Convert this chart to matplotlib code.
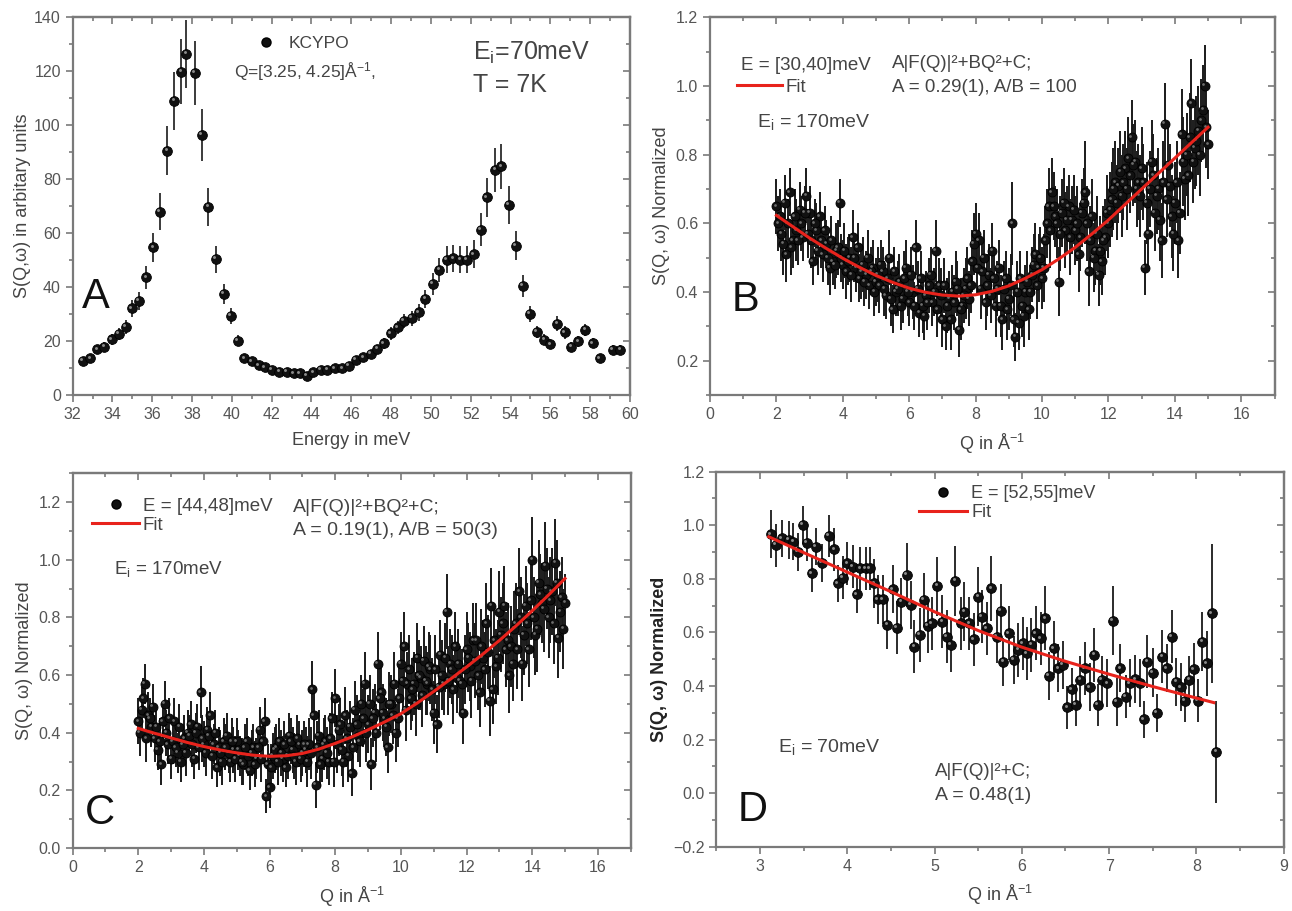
import matplotlib
matplotlib.use('Agg')
import numpy as np
import matplotlib.pyplot as plt
import matplotlib.transforms as mtransforms
from matplotlib.ticker import MultipleLocator
from matplotlib.lines import Line2D

plt.rcParams['font.family'] = ['Liberation Sans', 'DejaVu Sans']
plt.rcParams['mathtext.fontset'] = 'custom'
plt.rcParams['mathtext.rm'] = 'Liberation Sans'
plt.rcParams['mathtext.it'] = 'Liberation Sans:italic'
plt.rcParams['mathtext.bf'] = 'Liberation Sans:bold'

# ---------------- panel A : energy cut ----------------
a_energy = [32.52, 32.89, 33.25, 33.6, 33.98, 34.33, 34.66, 34.97, 35.33, 35.7,
            36.05, 36.37, 36.76, 37.11, 37.47, 37.72, 38.13, 38.49, 38.82, 39.2,
            39.6, 39.95, 40.3, 40.63, 41.0, 41.35, 41.67, 42.0, 42.38, 42.77,
            43.1, 43.43, 43.77, 44.1, 44.47, 44.8, 45.17, 45.55, 45.88, 46.22,
            46.6, 46.97, 47.3, 47.63, 47.97, 48.33, 48.63, 49.05, 49.38, 49.72,
            50.1, 50.43, 50.8, 51.13, 51.47, 51.8, 52.17, 52.5, 52.82, 53.23,
            53.54, 53.92, 54.27, 54.63, 54.96, 55.33, 55.69, 56.0, 56.35, 56.71,
            57.05, 57.4, 57.75, 58.12, 58.47, 59.15, 59.52]
a_sqw = [12.7, 13.6, 16.9, 17.9, 20.6, 22.6, 25.2, 32.1, 34.9, 43.6,
         54.8, 68.0, 90.6, 109.0, 119.8, 126.5, 119.4, 96.4, 69.8, 50.4,
         37.5, 29.3, 20.2, 13.6, 12.5, 11.0, 10.2, 9.3, 8.6, 8.6,
         8.0, 8.0, 7.2, 8.4, 9.3, 9.3, 9.9, 9.9, 10.9, 13.0,
         14.0, 15.2, 17.0, 19.1, 22.8, 25.1, 27.5, 28.5, 30.6, 35.6,
         41.1, 46.3, 50.1, 50.7, 50.1, 50.1, 52.2, 61.2, 73.3, 83.4,
         84.7, 70.5, 55.4, 40.5, 30.0, 23.4, 20.5, 18.8, 26.5, 23.2,
         17.9, 19.9, 24.1, 19.2, 13.6, 16.8, 16.8]
a_err = [1.2, 1.3, 1.6, 1.7, 2.0, 2.2, 2.5, 3.1, 3.4, 4.3,
         5.4, 6.8, 9.0, 10.8, 12.0, 12.6, 12.0, 9.6, 7.0, 5.0,
         3.7, 2.9, 2.0, 1.4, 1.2, 1.0, 1.0, 1.0, 1.0, 1.0,
         1.0, 1.0, 1.0, 1.0, 1.0, 1.0, 1.0, 1.0, 1.0, 1.3,
         1.4, 1.5, 1.7, 1.9, 2.3, 2.5, 2.7, 2.8, 3.0, 3.5,
         4.1, 4.6, 5.0, 5.0, 5.0, 5.0, 5.2, 6.1, 7.3, 8.3,
         8.5, 7.0, 5.5, 4.0, 3.0, 2.3, 2.0, 1.9, 2.6, 2.3,
         1.8, 2.0, 2.4, 1.9, 1.4, 1.7, 1.7]

# ---------------- panel B : E = [30,40] meV ----------------
b_q = np.linspace(2.0, 15.0, 131)
b_sqw = [0.65, 0.62, 0.54, 0.51, 0.69, 0.55, 0.58, 0.64, 0.56, 0.68,
         0.63, 0.49, 0.58, 0.62, 0.51, 0.54, 0.47, 0.49, 0.52, 0.66,
         0.48, 0.46, 0.50, 0.56, 0.47, 0.44, 0.48, 0.45, 0.42, 0.47,
         0.43, 0.42, 0.46, 0.39, 0.50, 0.35, 0.40, 0.43, 0.38, 0.47,
         0.37, 0.40, 0.53, 0.34, 0.36, 0.39, 0.42, 0.37, 0.52, 0.42,
         0.32, 0.30, 0.38, 0.40, 0.43, 0.29, 0.36, 0.41, 0.38, 0.49,
         0.57, 0.55, 0.46, 0.37, 0.45, 0.52, 0.36, 0.47, 0.32, 0.44,
         0.38, 0.60, 0.27, 0.31, 0.36, 0.40, 0.35, 0.45, 0.51, 0.47,
         0.44, 0.55, 0.65, 0.69, 0.62, 0.43, 0.63, 0.58, 0.65, 0.61,
         0.58, 0.51, 0.63, 0.69, 0.46, 0.62, 0.52, 0.45, 0.49, 0.56,
         0.60, 0.67, 0.72, 0.71, 0.68, 0.76, 0.79, 0.85, 0.78, 0.72,
         0.76, 0.47, 0.57, 0.78, 0.63, 0.70, 0.55, 0.89, 0.77, 0.62,
         0.66, 0.55, 0.86, 0.73, 0.74, 0.95, 0.82, 0.87, 0.90, 1.00,
         0.83]
b_err = [0.08, 0.08, 0.09, 0.08, 0.07, 0.08, 0.09, 0.08, 0.07, 0.08,
         0.08, 0.07, 0.08, 0.07, 0.08, 0.07, 0.08, 0.07, 0.08, 0.07,
         0.07, 0.08, 0.07, 0.08, 0.07, 0.07, 0.08, 0.07, 0.07, 0.08,
         0.07, 0.08, 0.07, 0.07, 0.08, 0.07, 0.07, 0.08, 0.07, 0.08,
         0.07, 0.08, 0.08, 0.07, 0.08, 0.07, 0.08, 0.07, 0.09, 0.08,
         0.08, 0.07, 0.08, 0.08, 0.09, 0.08, 0.08, 0.09, 0.08, 0.09,
         0.09, 0.08, 0.09, 0.08, 0.09, 0.08, 0.09, 0.08, 0.09, 0.08,
         0.09, 0.12, 0.07, 0.08, 0.09, 0.08, 0.09, 0.08, 0.09, 0.10,
         0.09, 0.10, 0.11, 0.10, 0.09, 0.10, 0.10, 0.11, 0.09, 0.10,
         0.10, 0.11, 0.10, 0.15, 0.10, 0.11, 0.10, 0.09, 0.10, 0.11,
         0.10, 0.11, 0.12, 0.11, 0.12, 0.11, 0.12, 0.11, 0.12, 0.11,
         0.12, 0.08, 0.11, 0.12, 0.11, 0.12, 0.11, 0.12, 0.11, 0.12,
         0.12, 0.11, 0.13, 0.12, 0.12, 0.13, 0.12, 0.13, 0.12, 0.12,
         0.10]
# the in-between Q bins (2.05 ... 14.95)
b_q_mid = np.linspace(2.05, 14.95, 130)
b_sqw_mid = [0.60, 0.57, 0.66, 0.60, 0.53, 0.62, 0.55, 0.60, 0.63, 0.57,
             0.55, 0.60, 0.52, 0.55, 0.58, 0.50, 0.55, 0.48, 0.53, 0.50,
             0.52, 0.49, 0.45, 0.50, 0.53, 0.46, 0.43, 0.50, 0.46, 0.40,
             0.45, 0.48, 0.41, 0.44, 0.38, 0.46, 0.41, 0.36, 0.44, 0.40,
             0.45, 0.36, 0.41, 0.44, 0.33, 0.37, 0.45, 0.40, 0.35, 0.39,
             0.42, 0.36, 0.32, 0.37, 0.41, 0.35, 0.39, 0.44, 0.42, 0.54,
             0.47, 0.41, 0.50, 0.42, 0.39, 0.44, 0.41, 0.36, 0.41, 0.35,
             0.42, 0.32, 0.40, 0.44, 0.33, 0.43, 0.40, 0.48, 0.42, 0.50,
             0.47, 0.60, 0.58, 0.65, 0.60, 0.57, 0.66, 0.61, 0.56, 0.64,
             0.60, 0.56, 0.66, 0.60, 0.55, 0.50, 0.57, 0.52, 0.55, 0.63,
             0.64, 0.70, 0.66, 0.75, 0.72, 0.70, 0.74, 0.77, 0.70, 0.68,
             0.72, 0.66, 0.70, 0.74, 0.68, 0.61, 0.72, 0.67, 0.71, 0.57,
             0.72, 0.63, 0.78, 0.80, 0.85, 0.78, 0.84, 0.80, 0.93, 0.88]
b_err_mid = [0.08, 0.08, 0.08, 0.07, 0.08, 0.08, 0.07, 0.08, 0.08, 0.07,
             0.08, 0.07, 0.07, 0.08, 0.07, 0.08, 0.07, 0.07, 0.08, 0.07,
             0.08, 0.07, 0.08, 0.07, 0.07, 0.08, 0.07, 0.08, 0.07, 0.07,
             0.08, 0.07, 0.08, 0.07, 0.08, 0.07, 0.08, 0.07, 0.08, 0.07,
             0.08, 0.07, 0.08, 0.08, 0.07, 0.08, 0.08, 0.07, 0.08, 0.08,
             0.08, 0.08, 0.09, 0.08, 0.08, 0.09, 0.08, 0.09, 0.08, 0.09,
             0.08, 0.09, 0.08, 0.09, 0.08, 0.09, 0.08, 0.09, 0.08, 0.09,
             0.09, 0.08, 0.09, 0.08, 0.09, 0.09, 0.08, 0.09, 0.10, 0.09,
             0.10, 0.10, 0.11, 0.10, 0.10, 0.11, 0.10, 0.10, 0.11, 0.10,
             0.11, 0.10, 0.10, 0.11, 0.10, 0.10, 0.11, 0.10, 0.10, 0.11,
             0.11, 0.12, 0.11, 0.12, 0.11, 0.12, 0.11, 0.12, 0.11, 0.12,
             0.11, 0.12, 0.11, 0.12, 0.11, 0.12, 0.12, 0.11, 0.12, 0.11,
             0.12, 0.12, 0.13, 0.12, 0.13, 0.12, 0.13, 0.12, 0.13, 0.12]
b_fit_q = [2, 2.5, 3, 3.5, 4, 4.5, 5, 5.5, 6, 6.5, 7, 7.5, 8, 8.5, 9, 9.5,
           10, 10.5, 11, 11.5, 12, 12.5, 13, 13.5, 14, 14.5, 15]
b_fit = [0.623, 0.59, 0.557, 0.527, 0.498, 0.472, 0.448, 0.428, 0.411, 0.399,
         0.391, 0.388, 0.392, 0.402, 0.418, 0.44, 0.465, 0.496, 0.53, 0.569,
         0.61, 0.655, 0.70, 0.745, 0.79, 0.835, 0.88]

# ---------------- panel C : E = [44,48] meV ----------------
c_q = np.linspace(2.0, 15.0, 131)
c_sqw = [0.44, 0.48, 0.57, 0.46, 0.42, 0.38, 0.34, 0.29, 0.50, 0.36,
         0.31, 0.44, 0.33, 0.30, 0.38, 0.40, 0.43, 0.31, 0.42, 0.54,
         0.36, 0.41, 0.46, 0.36, 0.28, 0.33, 0.37, 0.39, 0.30, 0.34,
         0.37, 0.32, 0.29, 0.37, 0.27, 0.35, 0.31, 0.41, 0.37, 0.18,
         0.21, 0.32, 0.35, 0.37, 0.31, 0.28, 0.39, 0.34, 0.30, 0.36,
         0.33, 0.34, 0.36, 0.55, 0.22, 0.39, 0.31, 0.37, 0.30, 0.45,
         0.52, 0.41, 0.34, 0.46, 0.32, 0.26, 0.48, 0.39, 0.50, 0.57,
         0.43, 0.29, 0.47, 0.64, 0.54, 0.45, 0.35, 0.50, 0.57, 0.45,
         0.64, 0.70, 0.57, 0.52, 0.57, 0.66, 0.59, 0.65, 0.57, 0.62,
         0.47, 0.43, 0.67, 0.57, 0.82, 0.64, 0.55, 0.59, 0.58, 0.47,
         0.69, 0.63, 0.72, 0.72, 0.54, 0.66, 0.78, 0.51, 0.55, 0.63,
         0.82, 0.78, 0.69, 0.60, 0.64, 0.78, 0.89, 0.64, 0.84, 0.69,
         1.00, 0.74, 0.92, 0.85, 0.98, 0.80, 0.89, 0.99, 0.73, 0.87,
         0.85]
c_err = [0.08, 0.08, 0.07, 0.08, 0.07, 0.08, 0.07, 0.07, 0.08, 0.07,
         0.07, 0.08, 0.07, 0.07, 0.08, 0.08, 0.08, 0.07, 0.08, 0.09,
         0.08, 0.08, 0.08, 0.07, 0.07, 0.08, 0.08, 0.08, 0.07, 0.08,
         0.08, 0.07, 0.07, 0.08, 0.07, 0.08, 0.07, 0.08, 0.08, 0.06,
         0.07, 0.08, 0.08, 0.08, 0.08, 0.07, 0.08, 0.08, 0.08, 0.08,
         0.08, 0.08, 0.09, 0.10, 0.08, 0.09, 0.08, 0.09, 0.08, 0.09,
         0.10, 0.09, 0.09, 0.10, 0.09, 0.08, 0.10, 0.09, 0.10, 0.11,
         0.10, 0.09, 0.10, 0.11, 0.11, 0.10, 0.09, 0.10, 0.11, 0.10,
         0.11, 0.12, 0.11, 0.11, 0.11, 0.12, 0.11, 0.12, 0.11, 0.12,
         0.11, 0.10, 0.12, 0.11, 0.13, 0.12, 0.12, 0.12, 0.12, 0.11,
         0.13, 0.12, 0.13, 0.13, 0.12, 0.13, 0.14, 0.12, 0.12, 0.13,
         0.14, 0.14, 0.13, 0.13, 0.13, 0.14, 0.15, 0.13, 0.14, 0.13,
         0.15, 0.14, 0.15, 0.14, 0.15, 0.14, 0.15, 0.15, 0.14, 0.14,
         0.10]
c_q_mid = np.linspace(2.05, 14.95, 130)
c_sqw_mid = [0.40, 0.52, 0.38, 0.45, 0.49, 0.42, 0.37, 0.44, 0.40, 0.45,
             0.37, 0.35, 0.42, 0.36, 0.33, 0.39, 0.36, 0.40, 0.35, 0.38,
             0.33, 0.39, 0.32, 0.40, 0.35, 0.30, 0.35, 0.33, 0.37, 0.31,
             0.34, 0.30, 0.35, 0.32, 0.33, 0.29, 0.35, 0.31, 0.44, 0.29,
             0.28, 0.34, 0.30, 0.33, 0.36, 0.32, 0.37, 0.32, 0.38, 0.31,
             0.36, 0.30, 0.33, 0.46, 0.35, 0.29, 0.36, 0.33, 0.38, 0.30,
             0.36, 0.43, 0.30, 0.38, 0.42, 0.35, 0.43, 0.37, 0.45, 0.40,
             0.50, 0.45, 0.40, 0.52, 0.47, 0.42, 0.50, 0.46, 0.40, 0.52,
             0.58, 0.48, 0.62, 0.55, 0.50, 0.60, 0.53, 0.58, 0.63, 0.55,
             0.62, 0.56, 0.60, 0.66, 0.58, 0.62, 0.70, 0.64, 0.57, 0.62,
             0.66, 0.58, 0.65, 0.60, 0.70, 0.62, 0.68, 0.84, 0.72, 0.66,
             0.74, 0.84, 0.72, 0.70, 0.76, 0.69, 0.80, 0.74, 0.78, 0.86,
             0.80, 0.76, 0.88, 0.83, 0.90, 0.86, 0.78, 0.92, 0.82, 0.76]
c_err_mid = [0.08, 0.07, 0.08, 0.07, 0.08, 0.07, 0.08, 0.07, 0.08, 0.07,
             0.08, 0.07, 0.08, 0.07, 0.08, 0.07, 0.08, 0.07, 0.08, 0.08,
             0.08, 0.07, 0.08, 0.08, 0.07, 0.08, 0.08, 0.07, 0.08, 0.08,
             0.07, 0.08, 0.08, 0.07, 0.08, 0.08, 0.07, 0.08, 0.08, 0.07,
             0.08, 0.08, 0.08, 0.08, 0.08, 0.08, 0.08, 0.08, 0.08, 0.08,
             0.08, 0.09, 0.09, 0.10, 0.09, 0.08, 0.09, 0.09, 0.09, 0.09,
             0.10, 0.09, 0.09, 0.10, 0.09, 0.10, 0.10, 0.09, 0.10, 0.10,
             0.10, 0.10, 0.10, 0.11, 0.10, 0.10, 0.11, 0.10, 0.10, 0.11,
             0.11, 0.11, 0.12, 0.11, 0.11, 0.12, 0.11, 0.12, 0.12, 0.11,
             0.12, 0.11, 0.12, 0.12, 0.12, 0.12, 0.12, 0.12, 0.12, 0.12,
             0.12, 0.13, 0.13, 0.12, 0.13, 0.13, 0.13, 0.13, 0.13, 0.13,
             0.13, 0.14, 0.13, 0.14, 0.13, 0.14, 0.14, 0.14, 0.14, 0.14,
             0.14, 0.15, 0.14, 0.15, 0.14, 0.15, 0.14, 0.15, 0.14, 0.14]
c_fit_q = b_fit_q
c_fit = [0.415, 0.398, 0.382, 0.366, 0.352, 0.34, 0.33, 0.322, 0.318, 0.32,
         0.328, 0.343, 0.363, 0.385, 0.41, 0.437, 0.466, 0.503, 0.543, 0.585,
         0.628, 0.673, 0.72, 0.77, 0.823, 0.878, 0.935]

# ---------------- panel D : E = [52,55] meV ----------------
d_q = [3.12, 3.18, 3.25, 3.33, 3.38, 3.43, 3.49, 3.54, 3.59, 3.64,
       3.71, 3.79, 3.85, 3.89, 3.95, 4.0, 4.06, 4.11, 4.15, 4.21,
       4.26, 4.31, 4.35, 4.41, 4.46, 4.52, 4.57, 4.62, 4.68, 4.73,
       4.77, 4.83, 4.88, 4.92, 4.97, 5.03, 5.09, 5.14, 5.19, 5.24,
       5.3, 5.34, 5.4, 5.45, 5.5, 5.54, 5.6, 5.65, 5.71, 5.76,
       5.79, 5.85, 5.91, 5.96, 6.01, 6.06, 6.11, 6.16, 6.22, 6.27,
       6.31, 6.37, 6.42, 6.47, 6.52, 6.57, 6.62, 6.67, 6.72, 6.78,
       6.83, 6.87, 6.92, 6.98, 7.04, 7.09, 7.13, 7.19, 7.24, 7.3,
       7.35, 7.4, 7.44, 7.5, 7.55, 7.61, 7.66, 7.72, 7.77, 7.82,
       7.87, 7.92, 7.97, 8.02, 8.07, 8.12, 8.18, 8.23]
d_sqw = [0.966, 0.926, 0.951, 0.945, 0.939, 0.901, 1.001, 0.935, 0.82, 0.92,
         0.86, 0.96, 0.91, 0.783, 0.804, 0.858, 0.845, 0.742, 0.839, 0.839,
         0.839, 0.783, 0.723, 0.723, 0.628, 0.761, 0.618, 0.715, 0.814, 0.702,
         0.547, 0.59, 0.721, 0.624, 0.634, 0.773, 0.64, 0.584, 0.553, 0.792,
         0.634, 0.677, 0.634, 0.574, 0.733, 0.659, 0.615, 0.764, 0.584, 0.68,
         0.491, 0.597, 0.497, 0.534, 0.559, 0.522, 0.553, 0.597, 0.578, 0.653,
         0.437, 0.541, 0.466, 0.478, 0.32, 0.387, 0.329, 0.422, 0.466, 0.395,
         0.516, 0.329, 0.422, 0.41, 0.644, 0.341, 0.466, 0.36, 0.41, 0.425,
         0.41, 0.275, 0.491, 0.45, 0.3, 0.51, 0.466, 0.584, 0.416, 0.395,
         0.345, 0.422, 0.462, 0.345, 0.565, 0.484, 0.671, 0.155]
d_err = [0.09, 0.08, 0.07, 0.07, 0.07, 0.07, 0.07, 0.07, 0.07, 0.07,
         0.07, 0.08, 0.08, 0.07, 0.08, 0.08, 0.08, 0.07, 0.08, 0.08,
         0.08, 0.09, 0.09, 0.09, 0.09, 0.09, 0.10, 0.09, 0.12, 0.09,
         0.10, 0.10, 0.10, 0.10, 0.10, 0.11, 0.10, 0.10, 0.10, 0.13,
         0.10, 0.11, 0.10, 0.10, 0.11, 0.10, 0.10, 0.12, 0.10, 0.10,
         0.09, 0.10, 0.09, 0.10, 0.10, 0.10, 0.10, 0.10, 0.10, 0.12,
         0.09, 0.10, 0.09, 0.09, 0.08, 0.08, 0.08, 0.09, 0.10, 0.09,
         0.10, 0.08, 0.09, 0.09, 0.13, 0.09, 0.09, 0.08, 0.09, 0.09,
         0.09, 0.07, 0.10, 0.09, 0.07, 0.10, 0.09, 0.10, 0.09, 0.09,
         0.08, 0.09, 0.10, 0.08, 0.11, 0.12, 0.26, 0.19]
d_fit_q = [3.1, 3.5, 4, 4.5, 5, 5.5, 6, 6.5, 7, 7.5, 8, 8.2]
d_fit = [0.957, 0.898, 0.825, 0.752, 0.677, 0.607, 0.545, 0.492, 0.444, 0.398, 0.355, 0.338]

GREY = '#555555'
TXT = '#444444'
SPINE = '#7a7a7a'
RED = '#e8231c'
W, H = 1292, 911
NOTE = 13.5


def px_axes(fig, left, top, right, bottom):
    return fig.add_axes([left / W, 1 - bottom / H, (right - left) / W, (bottom - top) / H])


def style(ax, xlim, ylim, xmaj, xmin, ymaj, ymin):
    ax.set_xlim(*xlim)
    ax.set_ylim(*ylim)
    for s in ax.spines.values():
        s.set_color(SPINE)
        s.set_linewidth(1.6)
    ax.xaxis.set_major_locator(MultipleLocator(xmaj))
    ax.xaxis.set_minor_locator(MultipleLocator(xmin))
    ax.yaxis.set_major_locator(MultipleLocator(ymaj))
    ax.yaxis.set_minor_locator(MultipleLocator(ymin))
    ax.tick_params(which='both', direction='out', color=SPINE, width=1.2,
                   labelcolor=GREY, labelsize=11.5)
    ax.tick_params(which='major', length=5)
    ax.tick_params(which='minor', length=3)
    top = ax.secondary_xaxis('top')
    top.xaxis.set_major_locator(MultipleLocator(xmaj))
    top.xaxis.set_minor_locator(MultipleLocator(xmin))
    top.tick_params(which='both', direction='in', color=SPINE, width=1.2, labeltop=False)
    top.tick_params(which='major', length=5)
    top.tick_params(which='minor', length=3)
    top.spines['top'].set_color(SPINE)
    top.spines['top'].set_linewidth(1.6)
    right = ax.secondary_yaxis('right')
    right.yaxis.set_major_locator(MultipleLocator(ymaj))
    right.yaxis.set_minor_locator(MultipleLocator(ymin))
    right.tick_params(which='both', direction='in', color=SPINE, width=1.2, labelright=False)
    right.tick_params(which='major', length=5)
    right.tick_params(which='minor', length=3)
    right.spines['right'].set_color(SPINE)
    right.spines['right'].set_linewidth(1.6)


def balls(ax, x, y, err, ms, elw=1.2, shine_col='#8c8c8c'):
    ax.errorbar(x, y, yerr=err, fmt='o', ms=ms, mfc='#111111', mec='black', mew=0.6,
                ecolor='#1a1a1a', elinewidth=elw, capsize=0, zorder=2)
    shine = mtransforms.offset_copy(ax.transData, fig=ax.figure,
                                    x=-ms * 0.17, y=ms * 0.17, units='points')
    ax.plot(x, y, 'o', ms=ms * 0.3, color=shine_col, mec='none',
            transform=shine, zorder=3)


fig = plt.figure(figsize=(W / 100, H / 100), dpi=100)
ball_handle = Line2D([], [], marker='o', ls='none', ms=6.5, mfc='#111111', mec='black')
fit_handle = Line2D([], [], color=RED, lw=2.2)

# ---- A ----
ax = px_axes(fig, 72.6, 17.3, 630, 395)
style(ax, (32, 60), (0, 140), 2, 1, 20, 10)
balls(ax, a_energy, a_sqw, a_err, 7)
ax.set_xlabel('Energy in meV', fontsize=13, color=TXT, labelpad=7)
ax.set_ylabel('S(Q,ω) in arbitary units', fontsize=13, color=TXT, labelpad=2)
ax.legend([ball_handle], ['KCYPO'], loc='center left', bbox_to_anchor=(0.331, 0.931),
          frameon=False, borderpad=0, borderaxespad=0, handlelength=1.0,
          handletextpad=0.8, fontsize=12.5, labelcolor=TXT)
ax.text(40.1, 120, 'Q=[3.25, 4.25]Å$^{\\mathregular{-1}}$,', fontsize=12.5, color=TXT, va='center')
ax.text(52.1, 126.7, 'E$_{\\mathregular{i}}$=70meV', fontsize=18, color=TXT, va='center')
ax.text(52.1, 115, 'T = 7K', fontsize=18, color=TXT, va='center')
ax.text(32.45, 36.5, 'A', fontsize=30, color='#111111', va='center')

# ---- B ----
ax = px_axes(fig, 710, 17.3, 1274.5, 395)
style(ax, (0, 17), (0.1, 1.2), 2, 1, 0.2, 0.1)
balls(ax, b_q, b_sqw, b_err, 6.5, 1.4, '#6e6e6e')
balls(ax, b_q_mid, b_sqw_mid, b_err_mid, 6.5, 1.4, '#6e6e6e')
ax.plot(b_fit_q, b_fit, color=RED, lw=2.2, zorder=4)
ax.set_xlabel('Q in Å$^{\\mathregular{-1}}$', fontsize=13, color=TXT, labelpad=7)
ax.set_ylabel('S(Q, ω) Normalized', fontsize=13, color=TXT, labelpad=4)
ax.text(0.94, 1.061, 'E = [30,40]meV', fontsize=NOTE, color=TXT, va='center')
ax.legend([fit_handle], ['Fit'], loc='center left', bbox_to_anchor=(0.0476, 0.815),
          frameon=False, borderpad=0, borderaxespad=0, handlelength=2.4,
          handletextpad=0.2, fontsize=NOTE, labelcolor=TXT)
ax.text(5.48, 1.066, 'A|F(Q)|²+BQ²+C;', fontsize=NOTE, color=TXT, va='center')
ax.text(5.48, 0.996, 'A = 0.29(1), A/B = 100', fontsize=NOTE, color=TXT, va='center')
ax.text(1.41, 0.896, 'E$_{\\mathregular{i}}$ = 170meV', fontsize=14, color=TXT, va='center')
ax.text(0.65, 0.377, 'B', fontsize=30, color='#111111', va='center')

# ---- C ----
ax = px_axes(fig, 72.6, 473.3, 630.7, 848)
style(ax, (0, 17), (0, 1.3), 2, 1, 0.2, 0.1)
balls(ax, c_q, c_sqw, c_err, 6.5, 1.4, '#6e6e6e')
balls(ax, c_q_mid, c_sqw_mid, c_err_mid, 6.5, 1.4, '#6e6e6e')
ax.plot(c_fit_q, c_fit, color=RED, lw=2.2, zorder=4)
ax.set_xlabel('Q in Å$^{\\mathregular{-1}}$', fontsize=13, color=TXT, labelpad=7)
ax.set_ylabel('S(Q, ω) Normalized', fontsize=13, color=TXT, labelpad=4)
ax.legend([ball_handle, fit_handle], ['E = [44,48]meV', 'Fit'], loc='upper left',
          bbox_to_anchor=(0.035, 0.935), frameon=False, borderpad=0, borderaxespad=0,
          handlelength=2.5, handletextpad=0.2, labelspacing=0.1, fontsize=NOTE,
          labelcolor=TXT)
ax.text(6.7, 1.18, 'A|F(Q)|²+BQ²+C;', fontsize=14, color=TXT, va='center')
ax.text(6.7, 1.10, 'A = 0.19(1), A/B = 50(3)', fontsize=14, color=TXT, va='center')
ax.text(1.26, 0.968, 'E$_{\\mathregular{i}}$ = 170meV', fontsize=NOTE, color=TXT, va='center')
ax.text(0.38, 0.12, 'C', fontsize=30, color='#111111', va='center')

# ---- D ----
ax = px_axes(fig, 716.4, 471.7, 1283.6, 846.7)
style(ax, (2.5, 9), (-0.2, 1.2), 1, 0.5, 0.2, 0.1)
balls(ax, d_q, d_sqw, d_err, 7, 1.3)
ax.plot(d_fit_q, d_fit, color=RED, lw=2.2, zorder=4)
ax.set_xlabel('Q in Å$^{\\mathregular{-1}}$', fontsize=13, color=TXT, labelpad=7)
ax.set_ylabel('S(Q, ω) Normalized', fontsize=13, color='#222222', fontweight='bold', labelpad=4)
ax.legend([ball_handle, fit_handle], ['E = [52,55]meV', 'Fit'], loc='upper left',
          bbox_to_anchor=(0.358, 0.965), frameon=False, borderpad=0, borderaxespad=0,
          handlelength=2.66, handletextpad=0.22, labelspacing=0.12, fontsize=13,
          labelcolor=TXT)
ax.text(3.21, 0.173, 'E$_{\\mathregular{i}}$ = 70meV', fontsize=14, color=TXT, va='center')
ax.text(5.01, 0.08, 'A|F(Q)|²+C;', fontsize=13.5, color=TXT, va='center')
ax.text(5.01, -0.007, 'A = 0.48(1)', fontsize=14, color=TXT, va='center')
ax.text(2.74, -0.063, 'D', fontsize=30, color='#111111', va='center')

fig.savefig('out.png', dpi=100, facecolor='white')
